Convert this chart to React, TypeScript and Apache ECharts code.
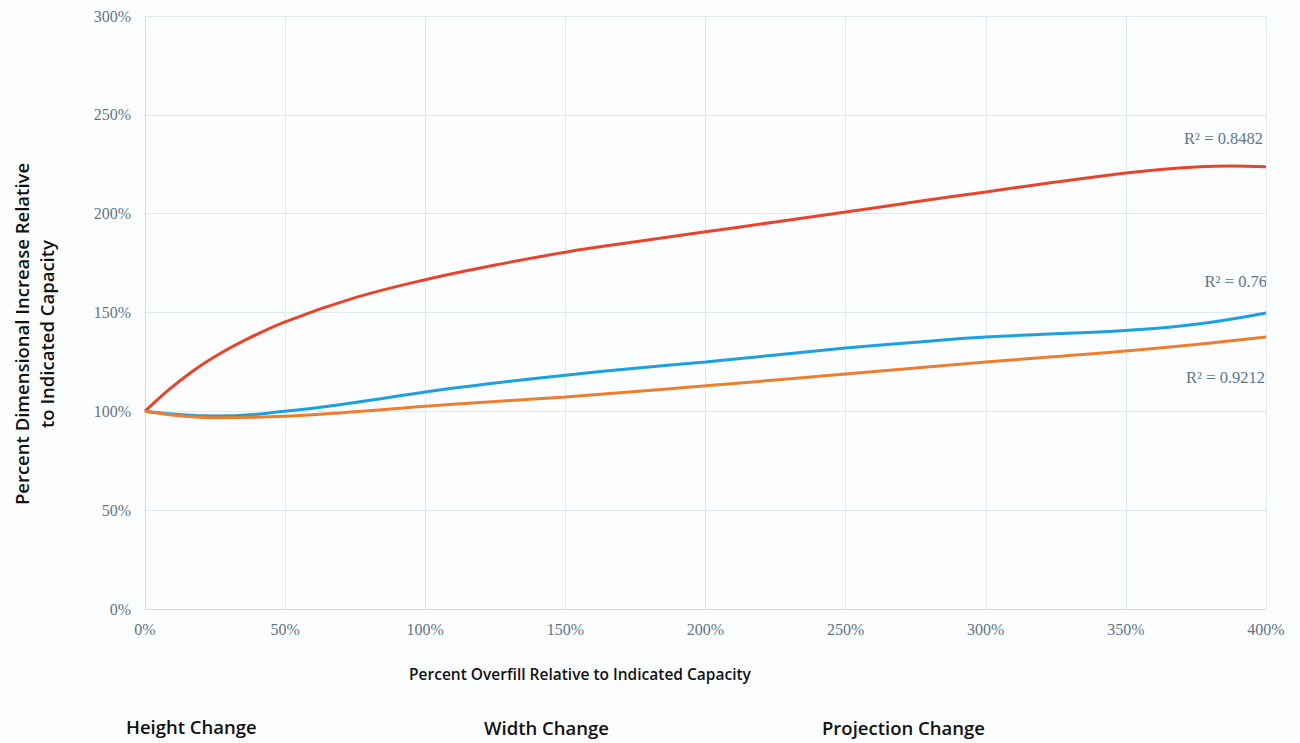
import React, { useEffect, useRef } from "react";
import * as echarts from "echarts";

const xValues = [0, 25, 50, 75, 100, 125, 150, 175, 200, 225, 250, 275, 300, 325, 350, 375, 400];
const heightX = [0, 8, 17, 25, 35, 50, 75, 100, 125, 150, 175, 200, 225, 250, 275, 300, 325, 350, 362.5, 375, 387.5, 400];
const heightValues = [100, 110.4, 120.3, 127.7, 135.5, 145.3, 157.5, 166.6, 174, 180.5, 185.8, 190.8, 195.8, 200.8, 206, 211, 216, 220.6, 222.4, 223.6, 224.1, 223.7];
const widthValues = [100, 97.6, 100, 104.5, 109.8, 114.3, 118.3, 121.8, 125, 128.5, 132, 135, 137.6, 139.2, 140.9, 144, 149.7];
const projValues = [100, 96.8, 97.5, 99.8, 102.6, 105, 107.3, 110, 112.9, 115.9, 118.9, 121.9, 124.9, 127.7, 130.5, 133.8, 137.6];

const seriesNames = ["Height Change", "Width Change", "Projection Change"];
const rSquared = ["R² = 0.8482", "R² = 0.76", "R² = 0.9212"];

const zip = (xs: number[], ys: number[]) => xs.map((x, i) => [x, ys[i]]);

export default function App() {
  const ref = useRef<HTMLDivElement>(null);
  useEffect(() => {
    if (!ref.current) return;
    const chart = echarts.init(ref.current, null, { renderer: "svg" });
    const labelColor = "#5f7585";
    const serif = "'Liberation Serif', 'DejaVu Serif', serif";
    const sans = "'Open Sans', sans-serif";
    const mk = (i: number, xs: number[], ys: number[], color: string, smooth: number) => ({
      name: seriesNames[i],
      type: "line",
      smooth,
      showSymbol: false,
      data: zip(xs, ys),
      lineStyle: { color, width: 3 },
      itemStyle: { color },
    });
    chart.setOption({
      animation: false,
      backgroundColor: "#fcfdff",
      grid: { left: 145, right: 34, top: 16, bottom: 134 },
      xAxis: {
        type: "value",
        min: 0,
        max: 400,
        interval: 50,
        axisLine: { show: true, lineStyle: { color: "#cfdde8", width: 1 } },
        axisTick: { show: false },
        splitLine: { show: true, lineStyle: { color: "#e0e9f0", width: 1 } },
        axisLabel: { formatter: "{value}%", color: labelColor, fontFamily: serif, fontSize: 16, margin: 12 },
      },
      yAxis: {
        type: "value",
        min: 0,
        max: 300,
        interval: 50,
        axisLine: { show: true, lineStyle: { color: "#cfdde8", width: 1 } },
        axisTick: { show: false },
        splitLine: { show: true, lineStyle: { color: "#e0e9f0", width: 1 } },
        axisLabel: { formatter: "{value}%", color: labelColor, fontFamily: serif, fontSize: 16, margin: 14 },
      },
      series: [
        mk(0, heightX, heightValues, "#e8432b", 0.4),
        mk(1, xValues, widthValues, "#1ba1dd", 0.45),
        mk(2, xValues, projValues, "#ee7e2f", 0.45),
      ],
      graphic: [
        { type: "text", right: 37, top: 130, style: { text: rSquared[0], font: `16.5px ${serif}`, fill: labelColor } },
        { type: "text", right: 33, top: 273, style: { text: rSquared[1], font: `16.5px ${serif}`, fill: labelColor } },
        { type: "text", right: 35, top: 369, style: { text: rSquared[2], font: `16.5px ${serif}`, fill: labelColor } },
        {
          type: "text",
          x: 34,
          y: 334,
          rotation: Math.PI / 2,
          style: {
            text: "Percent Dimensional Increase Relative\nto Indicated Capacity",
            font: `600 18.5px ${sans}`,
            fill: "#111",
            align: "center",
            verticalAlign: "middle",
            lineHeight: 25,
          },
        },
        {
          type: "text",
          x: 580,
          y: 674,
          style: {
            text: "Percent Overfill Relative to Indicated Capacity",
            font: `600 15.5px ${sans}`,
            fill: "#111",
            align: "center",
            verticalAlign: "middle",
          },
        },
        { type: "text", x: 126, y: 726, style: { text: seriesNames[0], font: `600 18.5px ${sans}`, fill: "#111", verticalAlign: "middle" } },
        { type: "text", x: 484, y: 727, style: { text: seriesNames[1], font: `600 18.5px ${sans}`, fill: "#111", verticalAlign: "middle" } },
        { type: "text", x: 822, y: 727, style: { text: seriesNames[2], font: `600 18.5px ${sans}`, fill: "#111", verticalAlign: "middle" } },
      ],
    });
    return () => chart.dispose();
  }, []);
  return <div ref={ref} style={{ position: "fixed", left: 0, top: 0, width: 1300, height: 743 }} />;
}
